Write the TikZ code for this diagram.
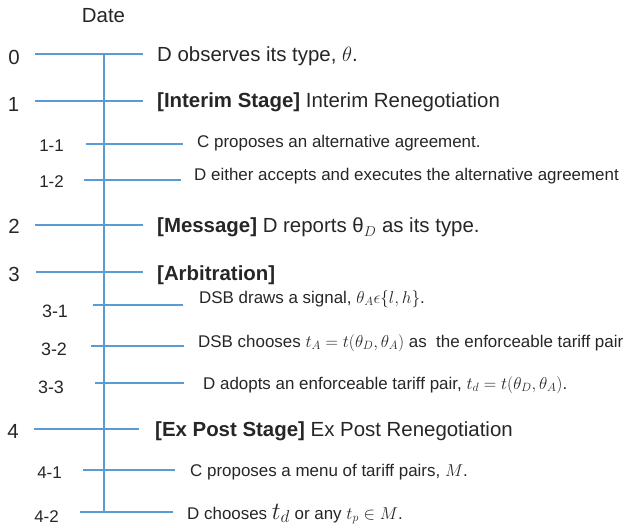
\documentclass[tikz,border=0pt]{standalone}
\usepackage[no-math]{fontspec}
\setmainfont{Liberation Sans}
\usepackage{amsmath,amssymb}
\usepackage{xcolor}
\usepackage{tikz}
\usetikzlibrary{positioning}
\definecolor{lineblue}{RGB}{91,155,213}
\definecolor{inkgray}{RGB}{38,38,38}
\tikzset{
    majtick/.style={draw=lineblue,line width=2.6bp},
    midtick/.style={draw=lineblue,line width=1.9bp},
    subtick/.style={draw=lineblue,line width=1.2bp},
    spine/.style={draw=lineblue,line width=1.3bp},
    datenum/.style={anchor=base,inner sep=0pt,text=inkgray,font=\fontsize{20.5}{24}\selectfont},
    subnum/.style={anchor=base,inner sep=0pt,text=inkgray,font=\fontsize{17}{20}\selectfont},
    event/.style={anchor=base west,inner sep=0pt,text=inkgray,font=\fontsize{20.5}{24}\selectfont},
    subevent/.style={anchor=base west,inner sep=0pt,text=inkgray,font=\fontsize{17}{20}\selectfont},
}

\begin{document}
\begin{tikzpicture}[x=1bp,y=-1bp]
\useasboundingbox (0,0) rectangle (627,528);
% header
\node[datenum] (date) at (103.5,23) {Date};
% time axis
\draw[spine] (104,54) -- (104,512);
% ticks
\draw[majtick] (35,54)  -- (143,54);
\draw[majtick] (35,101) -- (143,101);
\draw[subtick] (86,144) -- (183,144);
\draw[subtick] (84,180) -- (181,180);
\draw[majtick] (35,225) -- (143,225);
\draw[majtick] (36,272) -- (143,272);
\draw[midtick] (93,305) -- (183,305);
\draw[midtick] (91,346) -- (184,346);
\draw[midtick] (95,383) -- (184,383);
\draw[majtick] (34,429) -- (139,429);
\draw[subtick] (83,470) -- (175,470);
\draw[subtick] (80,512) -- (173,512);
% dates
\node[datenum] (n0)  at (14,65)   {0};
\node[datenum] (n1)  at (13.5,112) {1};
\node[subnum]  (n11) at (51.5,152) {1-1};
\node[subnum]  (n12) at (51.5,188) {1-2};
\node[datenum] (n2)  at (14,234)  {2};
\node[datenum] (n3)  at (14,281)  {3};
\node[subnum,font=\fontsize{18}{21}\selectfont]  (n31) at (55,317) {3-1};
\node[subnum,font=\fontsize{18}{21}\selectfont]  (n32) at (54,355) {3-2};
\node[subnum,font=\fontsize{18}{21}\selectfont]  (n33) at (51,393) {3-3};
\node[datenum] (n4)  at (13,438)  {4};
\node[subnum]  (n41) at (49.5,478) {4-1};
\node[subnum]  (n42) at (46.5,522) {4-2};
% events
\node[event]    (e0)  at (157,62)  {D observes its type, $\theta$.};
\node[event]    (e1)  at (157,108) {\textbf{[Interim Stage]} Interim Renegotiation};
\node[subevent] (e11) at (197,148) {C proposes an alternative agreement.};
\node[subevent] (e12) at (194,181) {D either accepts and executes the alternative agreement};
\node[event]    (e2)  at (157,233) {\textbf{[Message]} D reports θ$_D$ as its type.};
\node[event]    (e3)  at (157,280) {\textbf{[Arbitration]}};
\node[subevent] (e31) at (199,303) {DSB draws a signal, $\theta_A\epsilon\{l,h\}$.};
\node[subevent] (e32) at (198,347) {DSB chooses $t_A=t(\theta_D,\theta_A)$ as\ \ the enforceable tariff pair};
\node[subevent] (e33) at (203,389) {D adopts an enforceable tariff pair, $t_d=t(\theta_D,\theta_A)$.};
\node[event]    (e4)  at (155,436) {\textbf{[Ex Post Stage]} Ex Post Renegotiation};
\node[subevent] (e41) at (190,476) {C proposes a menu of tariff pairs, $M$.};
\node[subevent] (e42) at (187,519) {D chooses {\fontsize{23}{26}\selectfont$t_d$} or any $t_p\in M$.};
\end{tikzpicture}
\end{document}
